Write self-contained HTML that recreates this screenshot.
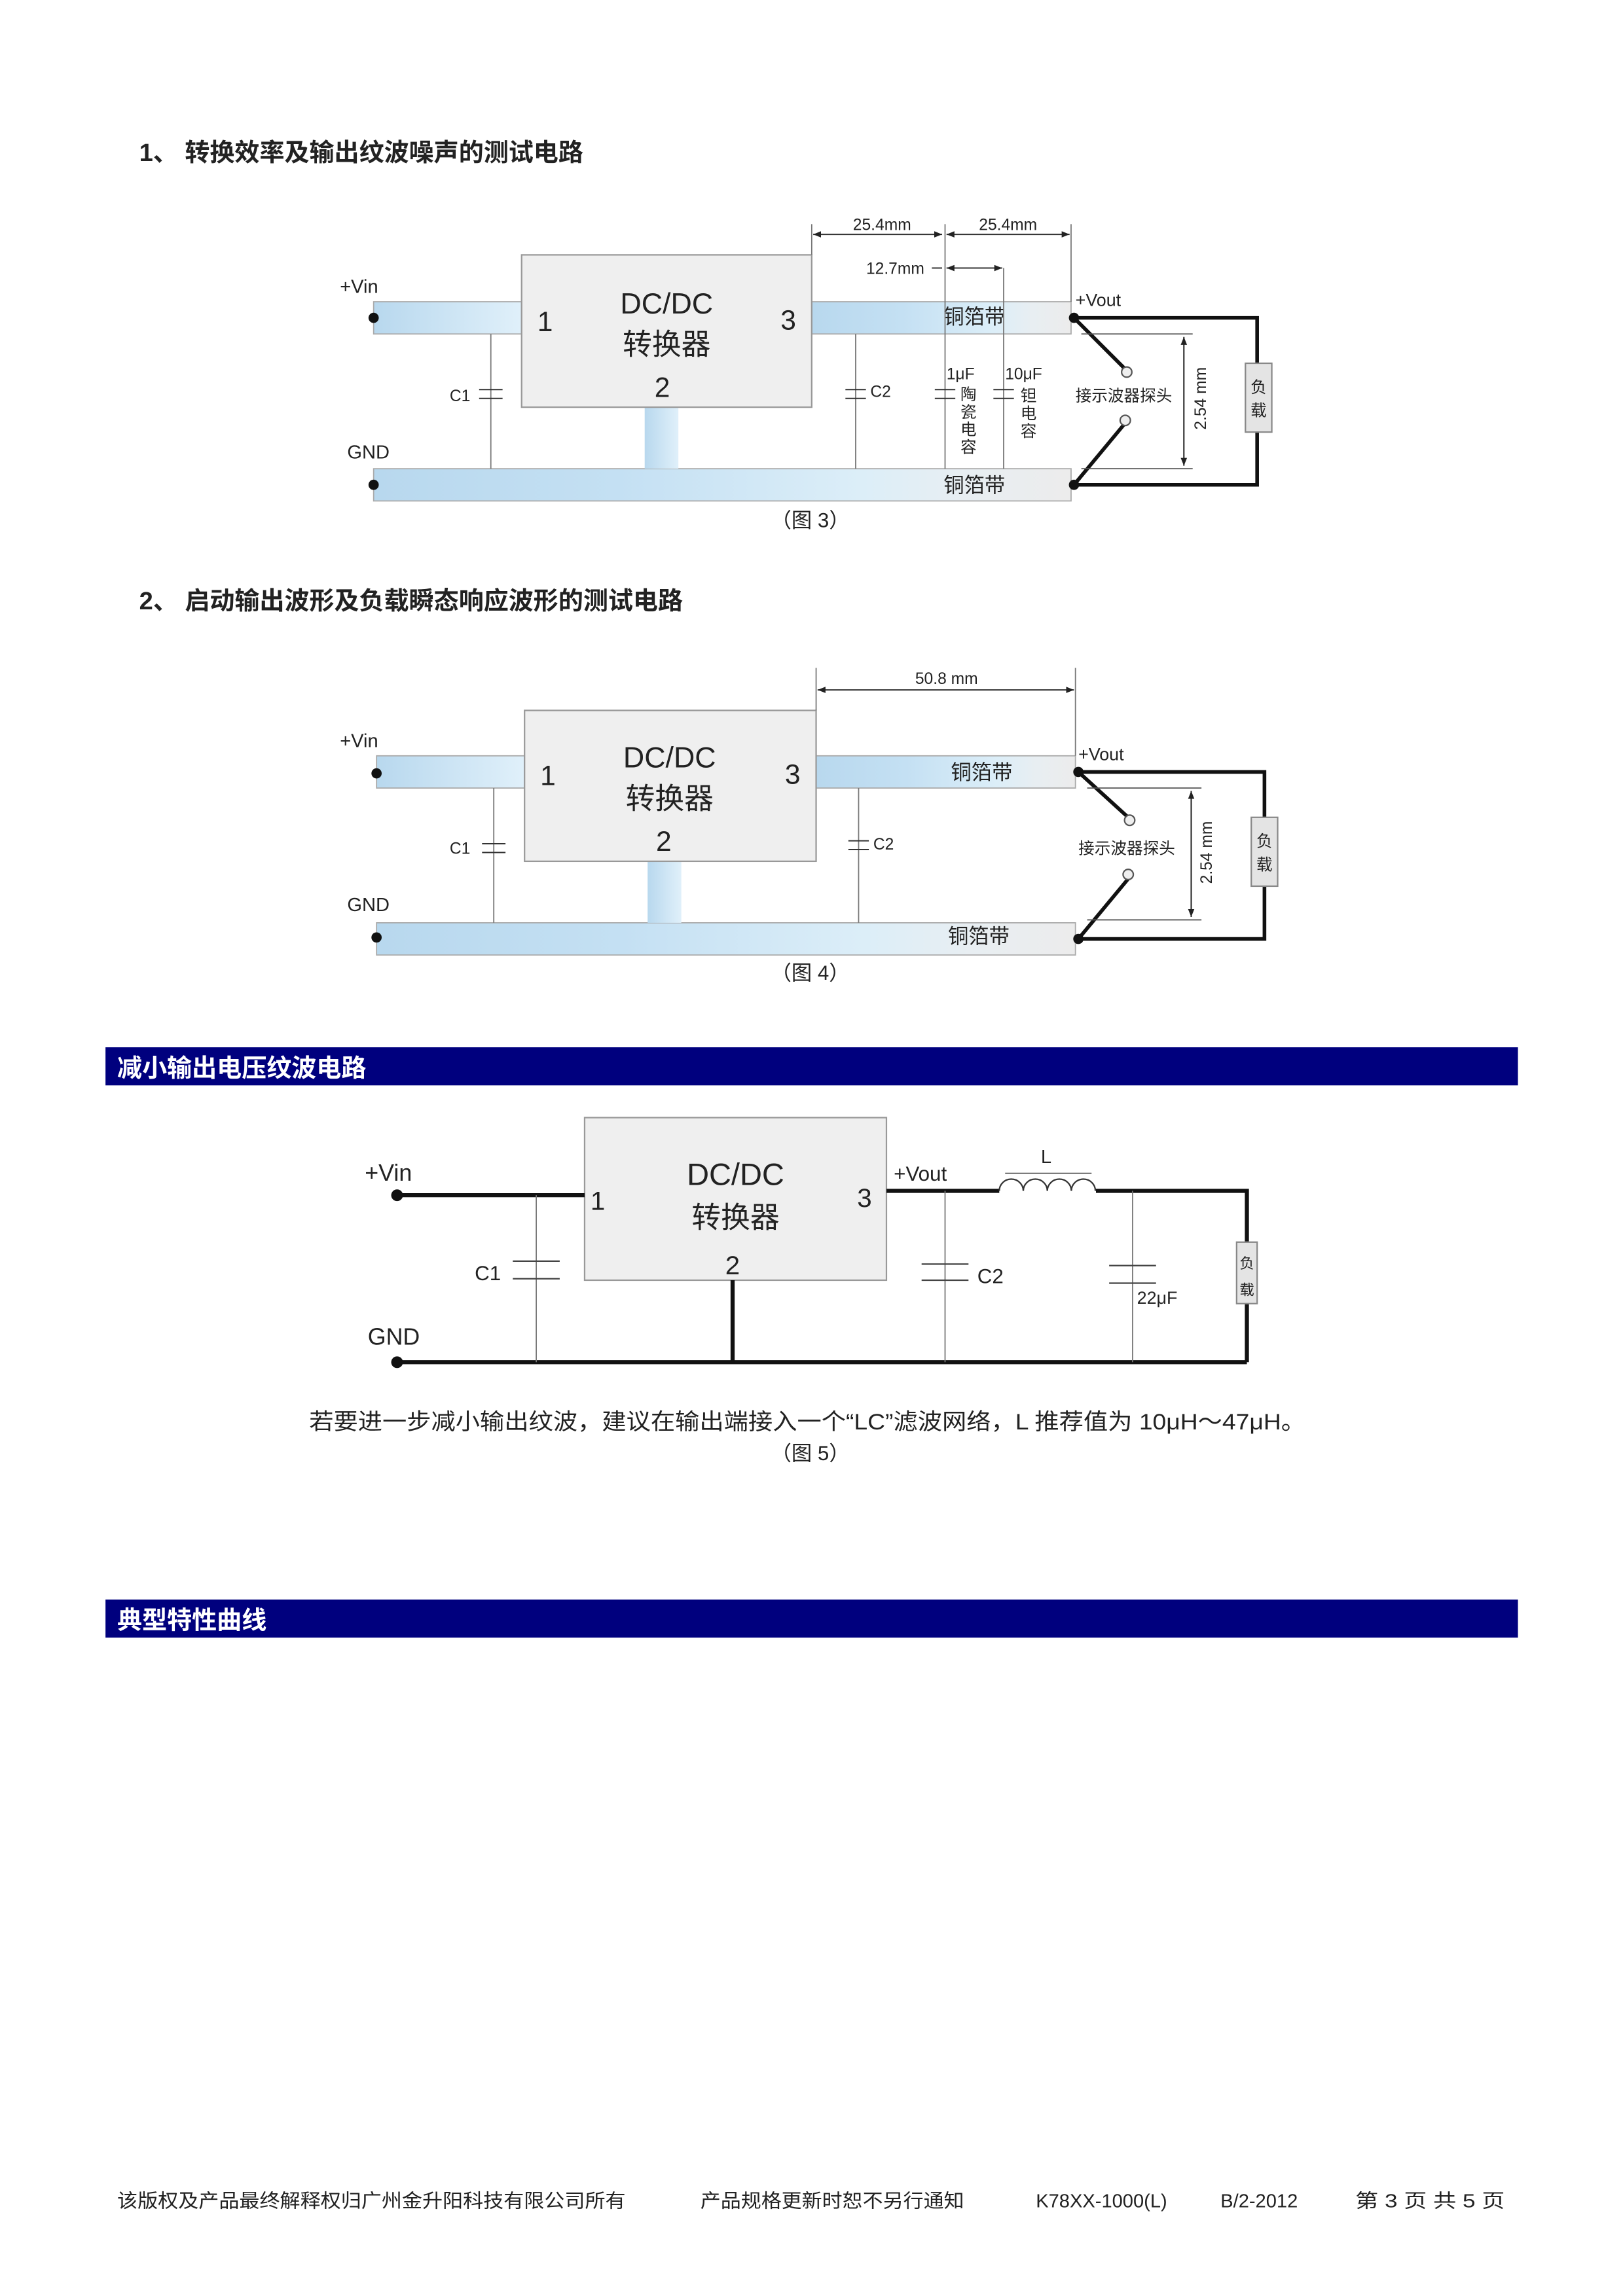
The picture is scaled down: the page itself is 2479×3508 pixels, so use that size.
<!DOCTYPE html>
<html><head><meta charset="utf-8"><style>
html,body{margin:0;padding:0;background:#fff;}
svg{display:block;}
text{font-family:"Liberation Sans","Noto Sans CJK SC",sans-serif;fill:#222;}
</style></head><body>
<svg width="2479" height="3508" viewBox="0 0 1107.7 1567.5" preserveAspectRatio="none" xmlns="http://www.w3.org/2000/svg">
<defs>
<linearGradient id="g" x1="0" x2="1" y1="0" y2="0">
<stop offset="0" stop-color="#b8d8ee"/><stop offset="0.35" stop-color="#c4e0f3"/><stop offset="0.7" stop-color="#dceef8"/><stop offset="0.85" stop-color="#e8eef2"/><stop offset="1" stop-color="#ececec"/>
</linearGradient>
<linearGradient id="gv" x1="0" x2="1" y1="0" y2="0">
<stop offset="0" stop-color="#b8d8ee"/><stop offset="1" stop-color="#e0f0fa"/>
</linearGradient>
<marker id="a" viewBox="0 0 10 10" refX="10" refY="5" markerWidth="6" markerHeight="6" orient="auto-start-reverse"><path d="M0,1 L10,5 L0,9 z" fill="#222"/></marker>
</defs>

<text x="95" y="110" font-size="17" font-weight="bold">1、 转换效率及输出纹波噪声的测试电路</text>
<text x="95" y="416" font-size="17" font-weight="bold">2、 启动输出波形及负载瞬态响应波形的测试电路</text>

<!-- ===== Fig 3 ===== -->
<g>
<rect x="255" y="206" width="101" height="22" fill="url(#gv)" stroke="#aaa" stroke-width="0.8"/>
<rect x="554" y="206" width="177" height="22" fill="url(#g)" stroke="#aaa" stroke-width="0.8"/>
<rect x="255" y="320" width="476" height="22" fill="url(#g)" stroke="#aaa" stroke-width="0.8"/>
<rect x="440" y="278" width="23" height="42" fill="url(#gv)"/>
<rect x="356" y="174" width="198" height="104" fill="#efefef" stroke="#999" stroke-width="1"/>
<text x="455" y="214" font-size="20" text-anchor="middle">DC/DC</text>
<text x="455" y="242" font-size="20" text-anchor="middle">转换器</text>
<text x="372" y="226" font-size="19" text-anchor="middle">1</text>
<text x="538" y="225" font-size="19" text-anchor="middle">3</text>
<text x="452" y="271" font-size="19" text-anchor="middle">2</text>
<text x="232" y="200" font-size="13">+Vin</text>
<text x="237" y="313" font-size="13">GND</text>
<circle cx="255" cy="217" r="3.5" fill="#111"/><circle cx="255" cy="331" r="3.5" fill="#111"/>
<text x="665" y="221" font-size="14" text-anchor="middle">铜箔带</text>
<text x="665" y="336" font-size="14" text-anchor="middle">铜箔带</text>
<g stroke="#777" stroke-width="0.8">
<line x1="335" y1="228" x2="335" y2="320"/><line x1="584" y1="228" x2="584" y2="320"/>
<line x1="645" y1="183" x2="645" y2="320"/><line x1="685" y1="183" x2="685" y2="320"/>
<line x1="554" y1="153" x2="554" y2="174"/><line x1="645" y1="153" x2="645" y2="183"/><line x1="731" y1="153" x2="731" y2="206"/>
</g>
<g stroke="#333" stroke-width="0.9" fill="none">
<line x1="327" y1="266" x2="343" y2="266"/><line x1="327" y1="272" x2="343" y2="272"/>
<line x1="577" y1="266" x2="591" y2="266"/><line x1="577" y1="272" x2="591" y2="272"/>
<line x1="638" y1="266" x2="652" y2="266"/><line x1="638" y1="272" x2="652" y2="272"/>
<line x1="678" y1="266" x2="692" y2="266"/><line x1="678" y1="272" x2="692" y2="272"/>
<line x1="555" y1="160" x2="643" y2="160" marker-start="url(#a)" marker-end="url(#a)"/>
<line x1="646" y1="160" x2="730" y2="160" marker-start="url(#a)" marker-end="url(#a)"/>
<line x1="636" y1="183" x2="643" y2="183"/>
<line x1="646" y1="183" x2="684" y2="183" marker-start="url(#a)" marker-end="url(#a)"/>
</g>
<text x="602" y="157" font-size="11" text-anchor="middle">25.4mm</text>
<text x="688" y="157" font-size="11" text-anchor="middle">25.4mm</text>
<text x="611" y="187" font-size="11" text-anchor="middle">12.7mm</text>
<text x="321" y="274" font-size="11" text-anchor="end">C1</text>
<text x="594" y="271" font-size="11">C2</text>
<text x="646" y="259" font-size="11">1μF</text>
<g font-size="11" text-anchor="middle"><text x="661" y="273">陶</text><text x="661" y="285">瓷</text><text x="661" y="297">电</text><text x="661" y="309">容</text>
<text x="702" y="274">钽</text><text x="702" y="286">电</text><text x="702" y="298">容</text></g>
<text x="686" y="259" font-size="11">10μF</text>
<text x="734" y="209" font-size="12">+Vout</text>
<g stroke="#111" stroke-width="2.5" fill="none">
<polyline points="733,217 858,217 858,331 733,331"/>
<line x1="733" y1="217" x2="767" y2="251"/><line x1="733" y1="331" x2="767" y2="290"/>
</g>
<circle cx="733" cy="217" r="3.5" fill="#111"/><circle cx="733" cy="331" r="3.5" fill="#111"/>
<circle cx="769" cy="254" r="3.5" fill="#eee" stroke="#555"/><circle cx="768" cy="287" r="3.5" fill="#eee" stroke="#555"/>
<rect x="850" y="248" width="18" height="47" fill="#e4e4e4" stroke="#888"/>
<text x="859" y="268" font-size="11" text-anchor="middle">负</text><text x="859" y="284" font-size="11" text-anchor="middle">载</text>
<text x="767" y="274" font-size="11" text-anchor="middle">接示波器探头</text>
<g stroke="#555" stroke-width="0.8"><line x1="738" y1="228" x2="814" y2="228"/><line x1="738" y1="320" x2="814" y2="320"/></g>
<line x1="808" y1="230" x2="808" y2="318" stroke="#222" stroke-width="0.9" marker-start="url(#a)" marker-end="url(#a)"/>
<text transform="translate(823,272) rotate(-90)" font-size="11" text-anchor="middle">2.54 mm</text>
<text x="553" y="360" font-size="14" text-anchor="middle">（图 3）</text>
</g>

<!-- ===== Fig 4 ===== -->
<g transform="translate(2,310)">
<rect x="255" y="206" width="101" height="22" fill="url(#gv)" stroke="#aaa" stroke-width="0.8"/>
<rect x="554" y="206" width="178" height="22" fill="url(#g)" stroke="#aaa" stroke-width="0.8"/>
<rect x="255" y="320" width="477" height="22" fill="url(#g)" stroke="#aaa" stroke-width="0.8"/>
<rect x="440" y="278" width="23" height="42" fill="url(#gv)"/>
<rect x="356" y="175" width="199" height="103" fill="#efefef" stroke="#999" stroke-width="1"/>
<text x="455" y="214" font-size="20" text-anchor="middle">DC/DC</text>
<text x="455" y="242" font-size="20" text-anchor="middle">转换器</text>
<text x="372" y="226" font-size="19" text-anchor="middle">1</text>
<text x="539" y="225" font-size="19" text-anchor="middle">3</text>
<text x="451" y="271" font-size="19" text-anchor="middle">2</text>
<text x="230" y="200" font-size="13">+Vin</text>
<text x="235" y="312" font-size="13">GND</text>
<circle cx="255" cy="218" r="3.5" fill="#111"/><circle cx="255" cy="330" r="3.5" fill="#111"/>
<text x="668" y="222" font-size="14" text-anchor="middle">铜箔带</text>
<text x="666" y="334" font-size="14" text-anchor="middle">铜箔带</text>
<g stroke="#777" stroke-width="0.8">
<line x1="335" y1="228" x2="335" y2="320"/><line x1="584" y1="228" x2="584" y2="320"/>
<line x1="555" y1="146" x2="555" y2="175"/><line x1="732" y1="146" x2="732" y2="206"/>
</g>
<g stroke="#333" stroke-width="0.9" fill="none">
<line x1="327" y1="266" x2="343" y2="266"/><line x1="327" y1="272" x2="343" y2="272"/>
<line x1="577" y1="264" x2="591" y2="264"/><line x1="577" y1="270" x2="591" y2="270"/>
<line x1="556" y1="161" x2="731" y2="161" marker-start="url(#a)" marker-end="url(#a)"/>
</g>
<text x="644" y="157" font-size="11" text-anchor="middle">50.8 mm</text>
<text x="319" y="273" font-size="11" text-anchor="end">C1</text>
<text x="594" y="270" font-size="11">C2</text>
<text x="734" y="209" font-size="12">+Vout</text>
<g stroke="#111" stroke-width="2.5" fill="none">
<polyline points="734,217 861,217 861,331 734,331"/>
<line x1="734" y1="217" x2="768" y2="248"/><line x1="734" y1="331" x2="768" y2="290"/>
</g>
<circle cx="734" cy="217" r="3.5" fill="#111"/><circle cx="734" cy="331" r="3.5" fill="#111"/>
<circle cx="769" cy="250" r="3.5" fill="#eee" stroke="#555"/><circle cx="768" cy="287" r="3.5" fill="#eee" stroke="#555"/>
<rect x="852" y="248" width="18" height="47" fill="#e4e4e4" stroke="#888"/>
<text x="861" y="268" font-size="11" text-anchor="middle">负</text><text x="861" y="284" font-size="11" text-anchor="middle">载</text>
<text x="767" y="273" font-size="11" text-anchor="middle">接示波器探头</text>
<g stroke="#555" stroke-width="0.8"><line x1="740" y1="228" x2="818" y2="228"/><line x1="740" y1="318" x2="818" y2="318"/></g>
<line x1="811" y1="230" x2="811" y2="316" stroke="#222" stroke-width="0.9" marker-start="url(#a)" marker-end="url(#a)"/>
<text transform="translate(825,272) rotate(-90)" font-size="11" text-anchor="middle">2.54 mm</text>
<text x="551" y="359" font-size="14" text-anchor="middle">（图 4）</text>
</g>

<rect x="72" y="715" width="964" height="26" fill="#00007e"/>
<text x="80" y="735" font-size="17" font-weight="bold" style="fill:#fff">减小输出电压纹波电路</text>
<rect x="72" y="1092" width="964" height="26" fill="#00007e"/>
<text x="80" y="1112" font-size="17" font-weight="bold" style="fill:#fff">典型特性曲线</text>

<!-- ===== Fig 5 ===== -->
<rect x="399" y="763" width="206" height="111" fill="#efefef" stroke="#999"/>
<text x="502" y="809" font-size="21" text-anchor="middle">DC/DC</text>
<text x="502" y="838" font-size="20" text-anchor="middle">转换器</text>
<text x="408" y="826" font-size="18" text-anchor="middle">1</text>
<text x="590" y="824" font-size="18" text-anchor="middle">3</text>
<text x="500" y="870" font-size="18" text-anchor="middle">2</text>
<text x="249" y="806" font-size="16">+Vin</text>
<text x="251" y="918" font-size="16">GND</text>
<g stroke="#111" stroke-width="2.8" fill="none">
<line x1="271" y1="816" x2="399" y2="816"/>
<line x1="271" y1="930" x2="851" y2="930"/>
<line x1="500" y1="874" x2="500" y2="930"/>
<line x1="605" y1="813" x2="682" y2="813"/>
<polyline points="748,813 851,813 851,930"/>
</g>
<circle cx="271" cy="816" r="4" fill="#111"/><circle cx="271" cy="930" r="4" fill="#111"/>
<path d="M682,813 a8.2,8 0 0 1 16.4,0 a8.2,8 0 0 1 16.4,0 a8.2,8 0 0 1 16.4,0 a8.2,8 0 0 1 16.4,0" fill="none" stroke="#333" stroke-width="1"/>
<line x1="686" y1="801" x2="745" y2="801" stroke="#555" stroke-width="0.8"/>
<text x="714" y="794" font-size="13" text-anchor="middle">L</text>
<text x="610" y="806" font-size="14">+Vout</text>
<g stroke="#777" stroke-width="0.8">
<line x1="366" y1="816" x2="366" y2="930"/><line x1="645" y1="813" x2="645" y2="930"/><line x1="773" y1="813" x2="773" y2="930"/>
</g>
<g stroke="#444" stroke-width="1">
<line x1="350" y1="861" x2="382" y2="861"/><line x1="350" y1="873" x2="382" y2="873"/>
<line x1="629" y1="863" x2="661" y2="863"/><line x1="629" y1="874" x2="661" y2="874"/>
<line x1="757" y1="864" x2="789" y2="864"/><line x1="757" y1="876" x2="789" y2="876"/>
</g>
<text x="324" y="874" font-size="14">C1</text>
<text x="667" y="876" font-size="14">C2</text>
<text x="776" y="890" font-size="12">22μF</text>
<rect x="844" y="848" width="14" height="42" fill="#e4e4e4" stroke="#888"/>
<text x="851" y="866" font-size="10" text-anchor="middle">负</text><text x="851" y="884" font-size="10" text-anchor="middle">载</text>
<text x="551" y="976" font-size="15.5" text-anchor="middle" textLength="680" lengthAdjust="spacingAndGlyphs">若要进一步减小输出纹波，建议在输出端接入一个“LC”滤波网络，L 推荐值为 10μH～47μH。</text>
<text x="553" y="997" font-size="14" text-anchor="middle">（图 5）</text>

<g font-size="13">
<text x="80" y="1507" textLength="347" lengthAdjust="spacingAndGlyphs">该版权及产品最终解释权归广州金升阳科技有限公司所有</text>
<text x="478" y="1507" textLength="180" lengthAdjust="spacingAndGlyphs">产品规格更新时恕不另行通知</text>
<text x="707" y="1507">K78XX-1000(L)</text>
<text x="833" y="1507">B/2-2012</text>
<text x="925" y="1507" textLength="102" lengthAdjust="spacingAndGlyphs">第 3 页 共 5 页</text>
</g>
</svg>
</body></html>
